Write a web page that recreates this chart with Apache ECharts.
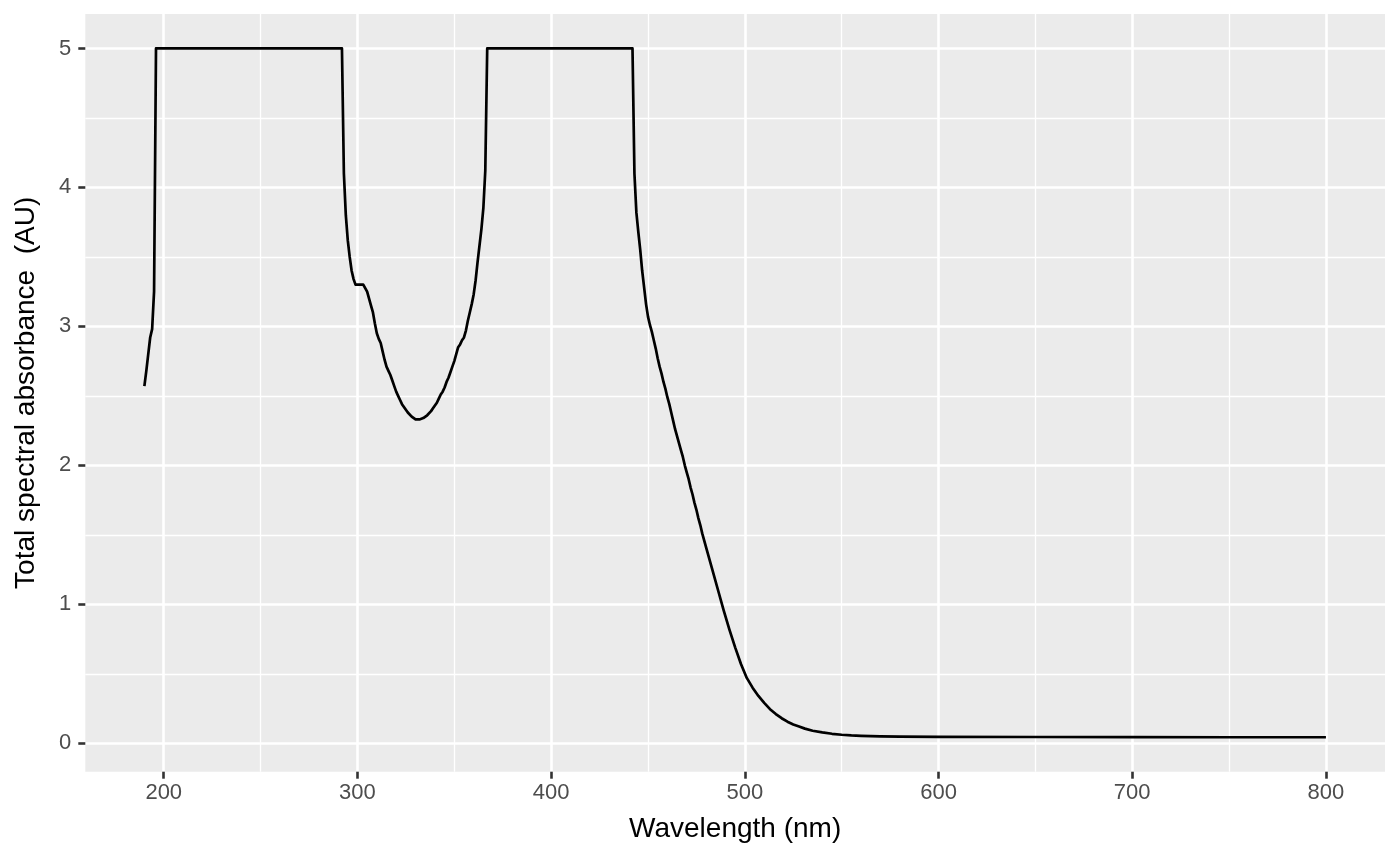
<!DOCTYPE html>
<html>
<head>
<meta charset="utf-8">
<title>Total spectral absorbance</title>
<script src="https://cdn.jsdelivr.net/npm/echarts@6.0.0/dist/echarts.min.js"></script>
<style>
    html, body { margin: 0; padding: 0; background: #fff; }
    #chart { width: 1400px; height: 866px; }
</style>
</head>
<body>
<div id="chart"></div>
<script>
// wavelength (nm) and total absorbance (AU)
var wavelength = [
    190, 191, 192, 193, 194, 195, 196, 292, 293, 294, 295, 296, 297, 298, 299,
    300, 301, 302, 303, 304, 305, 306, 307, 308, 309, 310, 311, 312, 313, 314,
    315, 316, 317, 318, 319, 320, 321, 322, 323, 324, 325, 326, 327, 328, 329,
    330, 331, 332, 333, 334, 335, 336, 337, 338, 339, 340, 341, 342, 343, 344,
    345, 346, 347, 348, 349, 350, 351, 352, 353, 354, 355, 356, 357, 358, 359,
    360, 361, 362, 363, 364, 365, 366, 367, 442, 443, 444, 445, 446, 447, 448,
    449, 450, 451, 452, 453, 454, 455, 456, 457, 458, 459, 460, 461, 462, 463,
    464, 465, 466, 467, 468, 469, 470, 471, 472, 473, 474, 475, 476, 477, 478,
    479, 480, 483, 486, 489, 492, 495, 498, 501, 504, 507, 510, 513, 516, 519,
    522, 525, 528, 531, 535, 540, 545, 550, 555, 560, 570, 580, 600, 650, 700,
    750, 800
];
var absorbance = [
    2.57, 2.68, 2.80, 2.92, 2.98, 3.25, 5.00, 5.00, 4.10, 3.80, 3.62, 3.50, 3.40, 3.34, 3.30,
    3.30, 3.30, 3.30, 3.30, 3.30, 3.25, 3.20, 3.15, 3.10, 3.02, 2.95, 2.91, 2.88, 2.82, 2.76,
    2.71, 2.68, 2.65, 2.61, 2.57, 2.53, 2.50, 2.47, 2.44, 2.42, 2.40, 2.38, 2.37, 2.35, 2.34,
    2.33, 2.33, 2.33, 2.33, 2.34, 2.35, 2.36, 2.37, 2.39, 2.41, 2.43, 2.45, 2.48, 2.51, 2.53,
    2.56, 2.60, 2.63, 2.67, 2.71, 2.75, 2.80, 2.85, 2.87, 2.90, 2.92, 2.97, 3.04, 3.10, 3.16,
    3.23, 3.33, 3.46, 3.58, 3.70, 3.85, 4.12, 5.00, 5.00, 4.10, 3.82, 3.68, 3.55, 3.40, 3.28,
    3.16, 3.07, 3.01, 2.96, 2.90, 2.84, 2.77, 2.71, 2.66, 2.60, 2.55, 2.49, 2.44, 2.38, 2.32,
    2.26, 2.21, 2.16, 2.11, 2.06, 2.00, 1.95, 1.90, 1.84, 1.79, 1.73, 1.68, 1.62, 1.57, 1.51,
    1.46, 1.41, 1.26, 1.11, 0.96, 0.82, 0.69, 0.57, 0.47, 0.40, 0.34, 0.29, 0.245, 0.21, 0.18,
    0.155, 0.135, 0.12, 0.105, 0.09, 0.078, 0.068, 0.061, 0.056, 0.053, 0.049, 0.047, 0.046, 0.045, 0.044,
    0.043, 0.043
];

// axis breaks
var xTicks = [200, 300, 400, 500, 600, 700, 800];
var xMinorTicks = [250, 350, 450, 550, 650, 750];
var yTicks = [0, 1, 2, 3, 4, 5];
var yMinorTicks = [0.5, 1.5, 2.5, 3.5, 4.5];

// ggplot style 5% padding around the data range
function padRange(arr) {
    var lo = Math.min.apply(null, arr), hi = Math.max.apply(null, arr);
    var pad = (hi - lo) * 0.05;
    return [lo - pad, hi + pad];
}
var xRange = padRange(wavelength);
var yRange = padRange(absorbance);

var FONT = 'Liberation Sans, Arial, Helvetica, sans-serif';

var points = wavelength.map(function(w, i) {
    return [w, absorbance[i]];
});

var myChart = echarts.init(document.getElementById('chart'), null, { renderer: 'canvas' });

var option = {
    animation: false,
    backgroundColor: '#ffffff',
    grid: {
        left: 85.3,
        right: 15,
        top: 14,
        bottom: 94.3,
        show: true,
        backgroundColor: '#EBEBEB',
        borderWidth: 0
    },
    xAxis: [
        {
            type: 'value',
            min: xRange[0],
            max: xRange[1],
            position: 'bottom',
            name: 'Wavelength (nm)',
            nameLocation: 'middle',
            nameGap: 44,
            nameTextStyle: { fontFamily: FONT, fontSize: 28, color: '#000' },
            axisLine: { show: false, onZero: false },
            axisTick: {
                show: true,
                customValues: xTicks,
                length: 7,
                lineStyle: { color: '#333333', width: 2.6 }
            },
            axisLabel: {
                customValues: xTicks,
                margin: 10,
                fontFamily: FONT,
                fontSize: 22,
                color: '#4D4D4D'
            },
            splitLine: { show: true, lineStyle: { color: '#ffffff', width: 2.6 } }
        },
        {
            // minor grid only
            type: 'value',
            min: xRange[0],
            max: xRange[1],
            axisLine: { show: false, onZero: false },
            axisTick: { show: false, customValues: xMinorTicks },
            axisLabel: { show: false, customValues: xMinorTicks },
            splitLine: { show: true, lineStyle: { color: '#ffffff', width: 1.3 } }
        }
    ],
    yAxis: [
        {
            type: 'value',
            min: yRange[0],
            max: yRange[1],
            position: 'left',
            name: 'Total spectral absorbance  (AU)',
            nameLocation: 'middle',
            nameGap: 45,
            nameTextStyle: { fontFamily: FONT, fontSize: 28, color: '#000' },
            axisLine: { show: false, onZero: false },
            axisTick: {
                show: true,
                customValues: yTicks,
                length: 7,
                lineStyle: { color: '#333333', width: 2.6 }
            },
            axisLabel: {
                customValues: yTicks,
                margin: 14,
                fontFamily: FONT,
                fontSize: 22,
                color: '#4D4D4D'
            },
            splitLine: { show: true, lineStyle: { color: '#ffffff', width: 2.6 } }
        },
        {
            type: 'value',
            min: yRange[0],
            max: yRange[1],
            axisLine: { show: false, onZero: false },
            axisTick: { show: false, customValues: yMinorTicks },
            axisLabel: { show: false, customValues: yMinorTicks },
            splitLine: { show: true, lineStyle: { color: '#ffffff', width: 1.3 } }
        }
    ],
    series: [
        {
            type: 'line',
            xAxisIndex: 0,
            yAxisIndex: 0,
            data: points,
            showSymbol: false,
            symbol: 'none',
            smooth: false,
            lineStyle: { color: '#000000', width: 2.7, join: 'round' }
        }
    ]
};
myChart.setOption(option);
</script>
</body>
</html>
